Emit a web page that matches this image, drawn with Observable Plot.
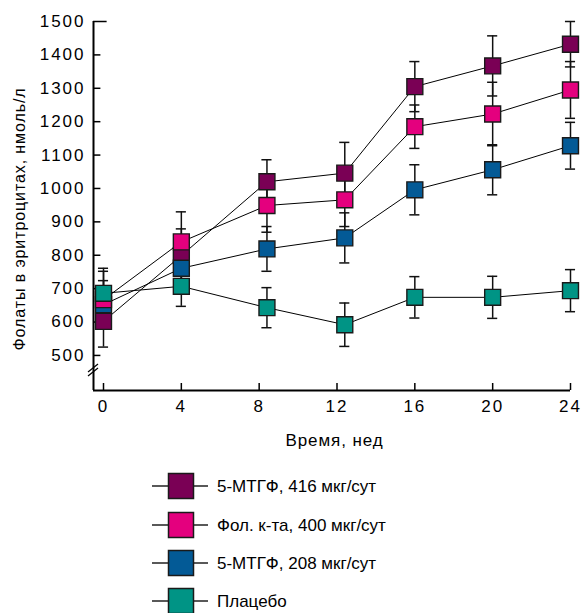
<!DOCTYPE html>
<html>
<head>
<meta charset="utf-8">
<script src="https://cdn.jsdelivr.net/npm/d3@7"></script>
<script src="https://cdn.jsdelivr.net/npm/@observablehq/plot@0.6"></script>
<style>
  html, body { margin: 0; padding: 0; background: #fff; }
  #chart svg, #legend svg { display: block; }
</style>
</head>
<body>
<div id="chart"></div>
<div id="legend"></div>
<script>
// ---- data ----
const weeks = [0, 4, 8.4, 12.4, 16, 20, 24];
const xTicks = [0, 4, 8, 12, 16, 20, 24];
const yTicks = [500, 600, 700, 800, 900, 1000, 1100, 1200, 1300, 1400, 1500];
const seriesNames = ["5-МТГФ, 416 мкг/сут", "Фол. к-та, 400 мкг/сут", "5-МТГФ, 208 мкг/сут", "Плацебо"];
const seriesColors = ["#7a0055", "#e4007e", "#035a96", "#009485"];

const mthf416  = [602, 799, 1020, 1046, 1305, 1367, 1432];
const mthf416Err = [77, 80, 66, 92, 75, 90, 68];
const folic400 = [667, 840, 949, 966, 1185, 1223, 1295];
const folic400Err = [85, 90, 80, 80, 65, 95, 85];
const mthf208  = [652, 761, 819, 852, 996, 1056, 1128];
const mthf208Err = [72, 70, 67, 75, 75, 75, 70];
const placebo  = [686, 707, 643, 592, 674, 674, 694];
const placeboErr = [75, 60, 60, 65, 62, 63, 63];

const xLabel = "Время, нед";
const yLabel = "Фолаты в эритроцитах, нмоль/л";

// ---- table ----
const seriesValues = [mthf416, folic400, mthf208, placebo];
const seriesErrs = [mthf416Err, folic400Err, mthf208Err, placeboErr];
const rows = [];
seriesNames.forEach((name, i) => {
  weeks.forEach((w, j) => {
    rows.push({series: name, week: w, value: seriesValues[i][j], err: seriesErrs[i][j]});
  });
});
// draw order for squares: purple, blue, pink, teal (teal on top)
const drawOrder = [0, 2, 1, 3];
const squareRows = drawOrder.flatMap(i => rows.filter(r => r.series === seriesNames[i]));
const caps = rows.flatMap(r => [{week: r.week, y: r.value - r.err}, {week: r.week, y: r.value + r.err}]);

const W = 581, H = 455;
const xMin = -0.514, yMin = 395, yMax = 1500;
const fontFamily = "'Liberation Sans', Arial, Helvetica, sans-serif";

const chart = Plot.plot({
  width: W, height: H,
  marginLeft: 93, marginRight: 11, marginTop: 21, marginBottom: H - 390,
  x: {domain: [xMin, 24]},
  y: {domain: [yMin, yMax]},
  color: {domain: seriesNames, range: seriesColors},
  style: {fontFamily, fontSize: "17px", color: "#000", background: "#fff", overflow: "visible"},
  marks: [
    // axis lines
    Plot.ruleY([yMin], {x1: xMin, x2: 24, stroke: "#000", strokeWidth: 2}),
    Plot.ruleX([xMin], {y1: yMin, y2: yMax, stroke: "#000", strokeWidth: 2}),
    // inward ticks
    Plot.ruleY(yTicks, {y: d => d, x1: xMin, x2: d => d === 1500 ? xMin + 0.7 : xMin + 0.38, stroke: "#000", strokeWidth: 1.5}),
    Plot.ruleX(xTicks, {x: d => d, y1: yMin, y2: yMin + 21, stroke: "#000", strokeWidth: 1.5}),
    // axis break marks
    (index, scales) => {
      const g = d3.create("svg:g");
      const x0 = scales.x(xMin), y0 = scales.y(455);
      [-2, 2].forEach(o => {
        g.append("line").attr("x1", x0 - 5).attr("y1", y0 + o + 4).attr("x2", x0 + 5).attr("y2", y0 + o - 4)
          .attr("stroke", "#000").attr("stroke-width", 1.3);
      });
      return g.node();
    },
    Plot.axisY(yTicks, {tickSize: 0, tickPadding: 8, label: null, fontSize: 17, tickFormat: d => String(d)}),
    Plot.axisX(xTicks, {tickSize: 0, tickPadding: 9, label: null, fontSize: 17, tickFormat: d => String(d)}),
    Plot.text([xLabel], {frameAnchor: "bottom", textAnchor: "middle", dy: 55, dx: 2.5, fontSize: 17}),
    Plot.text([yLabel], {frameAnchor: "left", textAnchor: "middle", rotate: -90, dx: -74, dy: 13, fontSize: 16}),
    // error bars
    Plot.ruleX(rows, {x: "week", y1: d => d.value - d.err, y2: d => d.value + d.err, stroke: "#111", strokeWidth: 1.5}),
    Plot.ruleY(caps, {y: "y", x1: d => d.week - 0.26, x2: d => d.week + 0.26, stroke: "#111", strokeWidth: 1.5}),
    // lines
    Plot.line(rows, {x: "week", y: "value", z: "series", stroke: "#000", strokeWidth: 1}),
    // squares
    Plot.dot(squareRows, {x: "week", y: "value", symbol: "square", r: 9, fill: "series", stroke: "#1a1a1a", strokeWidth: 1.4})
  ]
});
d3.select(chart).selectAll("g[aria-label='y-axis tick label'], g[aria-label='x-axis tick label']").attr("letter-spacing", "2px");
d3.select(chart).selectAll("g[aria-label='text']").attr("letter-spacing", "0.9px");
document.getElementById("chart").appendChild(chart);

// ---- legend ----
const LH = 613 - H;
const leg = d3.create("svg").attr("width", W).attr("height", LH)
  .style("font-family", fontFamily).style("font-size", "17px").style("background", "#fff");
const rowY = [31, 70, 108, 146];
seriesNames.forEach((name, i) => {
  const y = rowY[i];
  const g = leg.append("g");
  g.append("line").attr("x1", 152).attr("x2", 208).attr("y1", y).attr("y2", y).attr("stroke", "#222").attr("stroke-width", 1.5);
  g.append("rect").attr("x", 168.5).attr("y", y - 12.5).attr("width", 25).attr("height", 25)
    .attr("fill", seriesColors[i]).attr("stroke", "#1a1a1a").attr("stroke-width", 1.5);
  g.append("text").attr("x", 217).attr("y", y + 6).attr("fill", "#000").text(name);
});
document.getElementById("legend").appendChild(leg.node());
</script>
</body>
</html>
